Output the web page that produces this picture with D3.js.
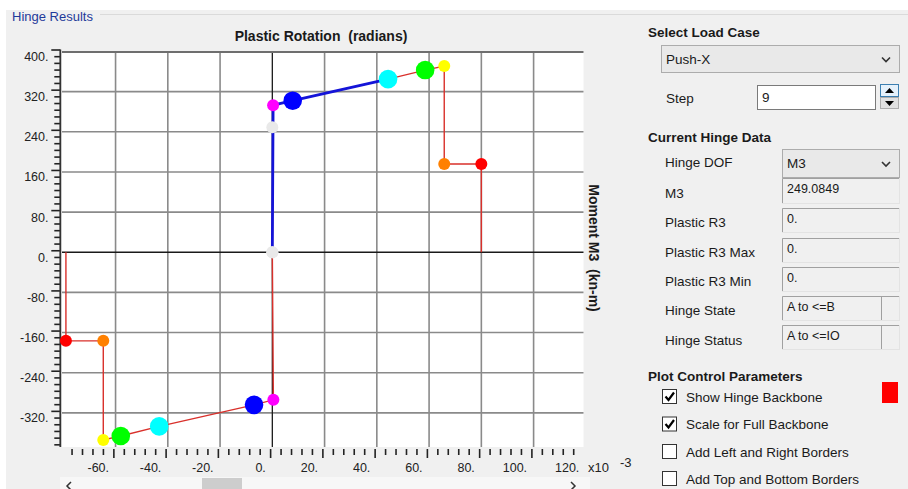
<!DOCTYPE html>
<html>
<head>
<meta charset="utf-8">
<script src="https://cdn.jsdelivr.net/npm/d3@7"></script>
<style>
  body { margin: 0; background: #f0f0f0; }
  svg { display: block; font-family: "Liberation Sans", Arial, sans-serif; }
  text { white-space: pre; }
</style>
</head>
<body>
<svg id="chart" width="908" height="489"></svg>
<script>
// ---------------- data ----------------
const xTickValues = [-60, -40, -20, 0, 20, 40, 60, 80, 100, 120];
const yTickValues = [400, 320, 240, 160, 80, 0, -80, -160, -240, -320];
// Backbone, positive side (rotation x10^-3 rad, moment kN-m)
const posRotation = [0, 0.3, 7.8, 44.3, 58.5, 65.8, 65.8, 80.0, 80.0];
const posMoment   = [0, 293, 302, 345, 363, 371, 176, 176, 0];
// Backbone, negative side
const negRotation = [0, 0.4, -7.0, -43.3, -58.0, -64.7, -64.7, -79.0, -79.0];
const negMoment   = [0, -294, -304, -347, -366, -374, -176.5, -176.5, 0];
// Marker colours and sizes for backbone points (origin, IO.. etc)
const pointColors = ["#e9e9e9", "#ff00ff", "#0000ff", "#00ffff", "#00ff00", "#ffff00", "#ff8000", "#ff0000"];
const pointBig    = [false, false, true, true, true, false, false, false];
// Current state
const currentRotation = 0;
const currentMoment = 249.0849;
const pathCount = 4; // points of positive backbone travelled (blue path)

// ---------------- chart ----------------
const svg = d3.select("#chart");

// background pieces
svg.append("rect").attr("x", 0).attr("y", 0).attr("width", 908).attr("height", 489).attr("fill", "#f0f0f0");
svg.append("rect").attr("x", 0).attr("y", 0).attr("width", 908).attr("height", 10).attr("fill", "#ffffff");
svg.append("rect").attr("x", 0).attr("y", 0).attr("width", 6).attr("height", 489).attr("fill", "#ffffff");
svg.append("line").attr("x1", 100).attr("x2", 908).attr("y1", 14.5).attr("y2", 14.5).attr("stroke", "#dadada");
svg.append("text").attr("x", 12).attr("y", 21).attr("font-size", 13).attr("fill", "#1f3a9a").text("Hinge Results");

const x = d3.scaleLinear().domain([-80.5, 119.1]).range([62, 583.5]);
const y = d3.scaleLinear().domain([-388, 400]).range([447, 51.5]);
// the tick frame is drawn slightly offset from the grid in the original
const xt = d3.scaleLinear().domain(x.domain()).range(x.range().map(v => v - 2.2));
const yt = d3.scaleLinear().domain(y.domain()).range(y.range().map(v => v - 2));

// plot background
svg.append("rect").attr("x", x(-80.5)).attr("y", y(400)).attr("width", x(119.1) - x(-80.5))
   .attr("height", y(-388) - y(400)).attr("fill", "#ffffff");

// grid
const gridX = xTickValues.filter(v => v !== 0 && v < 119);
const gridY = yTickValues.filter(v => v !== 0 && v < 400);
svg.append("g").selectAll("line").data(gridX).join("line")
  .attr("x1", d => x(d)).attr("x2", d => x(d)).attr("y1", y(400)).attr("y2", y(-388))
  .attr("stroke", "#8a8a8a").attr("stroke-width", 1.6);
svg.append("g").selectAll("line").data(gridY).join("line")
  .attr("x1", x(-80.5)).attr("x2", x(119.1)).attr("y1", d => y(d)).attr("y2", d => y(d))
  .attr("stroke", "#8a8a8a").attr("stroke-width", 1.6);
// zero lines
svg.append("line").attr("x1", x(0)).attr("x2", x(0)).attr("y1", y(400)).attr("y2", y(-388))
  .attr("stroke", "#1a1a1a").attr("stroke-width", 1.3);
svg.append("line").attr("x1", x(-80.5)).attr("x2", x(119.1)).attr("y1", y(0)).attr("y2", y(0))
  .attr("stroke", "#1a1a1a").attr("stroke-width", 1.3);
// top border
svg.append("line").attr("x1", x(-80.5)).attr("x2", x(119.1)).attr("y1", y(400) + 0.5).attr("y2", y(400) + 0.5)
  .attr("stroke", "#6e6e6e").attr("stroke-width", 2.2);

// y axis (left)
const yMinor = d3.range(0, 60).map(i => 400 - i * 80 / 6).filter(v => v > -388 && Math.abs(v / 80 - Math.round(v / 80)) > 1e-6);
const yAxisMajor = d3.axisLeft(yt).tickValues(yTickValues).tickSize(9).tickFormat("");
const yAxisMinor = d3.axisLeft(yt).tickValues(yMinor).tickSize(6).tickFormat("");
const gyM = svg.append("g").attr("transform", `translate(${xt(-80.5) + 0.5},0)`).call(yAxisMajor);
const gym = svg.append("g").attr("transform", `translate(${xt(-80.5) + 0.5},0)`).call(yAxisMinor);
[gyM, gym].forEach(g => {
  g.selectAll(".domain").remove();
  g.selectAll("line").attr("stroke", "#222").attr("stroke-width", 1.6);
});
svg.append("line").attr("x1", xt(-80.5) + 0.5).attr("x2", xt(-80.5) + 0.5).attr("y1", yt(400)).attr("y2", y(-388))
  .attr("stroke", "#333").attr("stroke-width", 1.8);
svg.append("g").selectAll("text").data(yTickValues).join("text")
  .attr("x", 48.5).attr("y", d => yt(d) + 11.5).attr("text-anchor", "end")
  .attr("font-size", 12.5).attr("fill", "#222").text(d => d + ".");

// x axis (bottom)
const xMinor = d3.range(-76, 119, 4).filter(v => v % 20 !== 0);
const xMajorTicks = xTickValues.filter(v => v < 119);
const xAxisMajor = d3.axisBottom(xt).tickValues(xMajorTicks).tickSize(9).tickFormat("");
const xAxisMinor = d3.axisBottom(xt).tickValues(xMinor).tickSize(6).tickFormat("");
const gxM = svg.append("g").attr("transform", `translate(0,${y(-388) + 2})`).call(xAxisMajor);
const gxm = svg.append("g").attr("transform", `translate(0,${y(-388) + 2})`).call(xAxisMinor);
[gxM, gxm].forEach(g => {
  g.selectAll(".domain").remove();
  g.selectAll("line").attr("stroke", "#222").attr("stroke-width", 1.6);
});
svg.append("g").selectAll("text").data(xTickValues).join("text")
  .attr("x", d => x(d) - 6.5).attr("y", 472).attr("text-anchor", "end")
  .attr("font-size", 12.5).attr("fill", "#222").text(d => d + ".");
svg.append("text").attr("x", 588).attr("y", 472).attr("font-size", 13).attr("fill", "#222").text("x10");
svg.append("text").attr("x", 620).attr("y", 467).attr("font-size", 13).attr("fill", "#222").text("-3");

// titles
svg.append("text").attr("x", 321).attr("y", 41).attr("text-anchor", "middle")
  .attr("font-size", 14).attr("font-weight", "bold").attr("fill", "#1a1a1a").text("Plastic Rotation  (radians)");
svg.append("text").attr("transform", "translate(594,248) rotate(90)").attr("text-anchor", "middle")
  .attr("dy", "0.35em").attr("font-size", 14).attr("font-weight", "bold").attr("fill", "#1a1a1a")
  .text("Moment M3  (kn-m)");

// backbone lines
const line = d3.line().x(d => x(d[0])).y(d => y(d[1]));
const posPts = posRotation.map((r, i) => [r, posMoment[i]]);
const negPts = negRotation.map((r, i) => [r, negMoment[i]]);
svg.append("path").attr("d", line(posPts)).attr("fill", "none").attr("stroke", "#d9302b").attr("stroke-width", 1.4);
svg.append("path").attr("d", line(negPts)).attr("fill", "none").attr("stroke", "#d9302b").attr("stroke-width", 1.4);
// travelled path (blue)
svg.append("path").attr("d", line(posPts.slice(0, pathCount))).attr("fill", "none")
  .attr("stroke", "#1414d8").attr("stroke-width", 2.8);

// markers
function drawPoints(pts) {
  svg.append("g").selectAll("circle").data(pts.slice(0, pointColors.length)).join("circle")
    .attr("cx", d => x(d[0])).attr("cy", d => y(d[1]))
    .attr("r", (d, i) => pointBig[i] ? 9.3 : 6)
    .attr("fill", (d, i) => pointColors[i]);
}
drawPoints(posPts);
drawPoints(negPts);
svg.append("circle").attr("cx", x(currentRotation)).attr("cy", y(currentMoment)).attr("r", 6).attr("fill", "#e9e9e9");

// scrollbar
svg.append("rect").attr("x", 60).attr("y", 477).attr("width", 530).attr("height", 12).attr("fill", "#f7f7f7");
svg.append("rect").attr("x", 202).attr("y", 478).attr("width", 40).attr("height", 11).attr("fill", "#cdcdcd");
svg.append("path").attr("d", "M71,482 L67,486 L71,490").attr("fill", "none").attr("stroke", "#333").attr("stroke-width", 1.5);
svg.append("path").attr("d", "M571,482 L575,486 L571,490").attr("fill", "none").attr("stroke", "#333").attr("stroke-width", 1.5);

// ---------------- right panel ----------------
const panel = svg.append("g");
function heading(t, xx, yy) {
  panel.append("text").attr("x", xx).attr("y", yy).attr("font-size", 13.5).attr("font-weight", "bold")
    .attr("fill", "#1a1a1a").text(t);
}
function label(t, xx, yy) {
  panel.append("text").attr("x", xx).attr("y", yy).attr("font-size", 13.5).attr("fill", "#1a1a1a").text(t);
}
function chevron(cx, cy) {
  panel.append("path").attr("d", `M${cx - 4},${cy - 2} L${cx},${cy + 2} L${cx + 4},${cy - 2}`)
    .attr("fill", "none").attr("stroke", "#333").attr("stroke-width", 1.6);
}
function dropdown(x0, y0, x1, y1, t) {
  panel.append("rect").attr("x", x0 + 0.5).attr("y", y0 + 0.5).attr("width", x1 - x0).attr("height", y1 - y0)
    .attr("fill", "#e9e9e9").attr("stroke", "#acacac");
  label(t, x0 + 5, (y0 + y1) / 2 + 5);
  chevron(x1 - 13, (y0 + y1) / 2 + 1);
}
function readBox(y0, y1, t, divider) {
  const x0 = 782, x1 = 899;
  panel.append("rect").attr("x", x0 + 0.5).attr("y", y0 + 0.5).attr("width", x1 - x0).attr("height", y1 - y0)
    .attr("fill", "#f0f0f0").attr("stroke", "#e3e3e3");
  panel.append("path").attr("d", `M${x0 + 0.5},${y1} L${x0 + 0.5},${y0 + 0.5} L${x1},${y0 + 0.5}`)
    .attr("fill", "none").attr("stroke", "#a0a0a0");
  if (divider) {
    panel.append("line").attr("x1", 881.5).attr("x2", 881.5).attr("y1", y0).attr("y2", y1).attr("stroke", "#a0a0a0");
  }
  panel.append("text").attr("x", 787).attr("y", y0 + 15).attr("font-size", 12.5).attr("fill", "#1a1a1a").text(t);
}
function checkbox(y0, checked, t) {
  panel.append("rect").attr("x", 662.5).attr("y", y0 + 0.5).attr("width", 14).attr("height", 14)
    .attr("fill", "#ffffff").attr("stroke", "#333").attr("stroke-width", 1);
  if (checked) {
    panel.append("path").attr("d", `M665.5,${y0 + 7.5} L668.5,${y0 + 11} L674,${y0 + 3.5}`)
      .attr("fill", "none").attr("stroke", "#000").attr("stroke-width", 2.2);
  }
  label(t, 686, y0 + 12.5);
}

heading("Select Load Case", 648, 37);
dropdown(661, 45, 899, 72, "Push-X");
label("Step", 666, 103);
panel.append("rect").attr("x", 757.5).attr("y", 85.5).attr("width", 118).attr("height", 24)
  .attr("fill", "#ffffff").attr("stroke", "#7a7a7a");
label("9", 762, 102);
// spin buttons
panel.append("rect").attr("x", 880.5).attr("y", 84.5).attr("width", 18).attr("height", 12)
  .attr("fill", "#e5f1fb").attr("stroke", "#3c7fb1");
panel.append("path").attr("d", "M885,93 L894,93 L889.5,88 Z").attr("fill", "#000");
panel.append("rect").attr("x", 880.5).attr("y", 97.5).attr("width", 18).attr("height", 11)
  .attr("fill", "#e1e1e1").attr("stroke", "#adadad");
panel.append("path").attr("d", "M885,101 L894,101 L889.5,106 Z").attr("fill", "#000");

heading("Current Hinge Data", 648, 142);
label("Hinge DOF", 665, 167);
dropdown(782, 149, 899, 177, "M3");
label("M3", 665, 198);
readBox(178, 203, "249.0849", false);
label("Plastic R3", 665, 227);
readBox(208, 232, "0.", false);
label("Plastic R3 Max", 665, 257);
readBox(238, 262, "0.", false);
label("Plastic R3 Min", 665, 286);
readBox(267, 291, "0.", false);
label("Hinge State", 665, 315);
readBox(296, 320, "A to <=B", true);
label("Hinge Status", 665, 345);
readBox(325, 349, "A to <=IO", true);

heading("Plot Control Parameters", 648, 381);
checkbox(389, true, "Show Hinge Backbone");
checkbox(416.5, true, "Scale for Full Backbone");
checkbox(444, false, "Add Left and Right Borders");
checkbox(471, false, "Add Top and Bottom Borders");
panel.append("rect").attr("x", 882).attr("y", 382).attr("width", 16).attr("height", 21).attr("fill", "#ff0000");
</script>
</body>
</html>
